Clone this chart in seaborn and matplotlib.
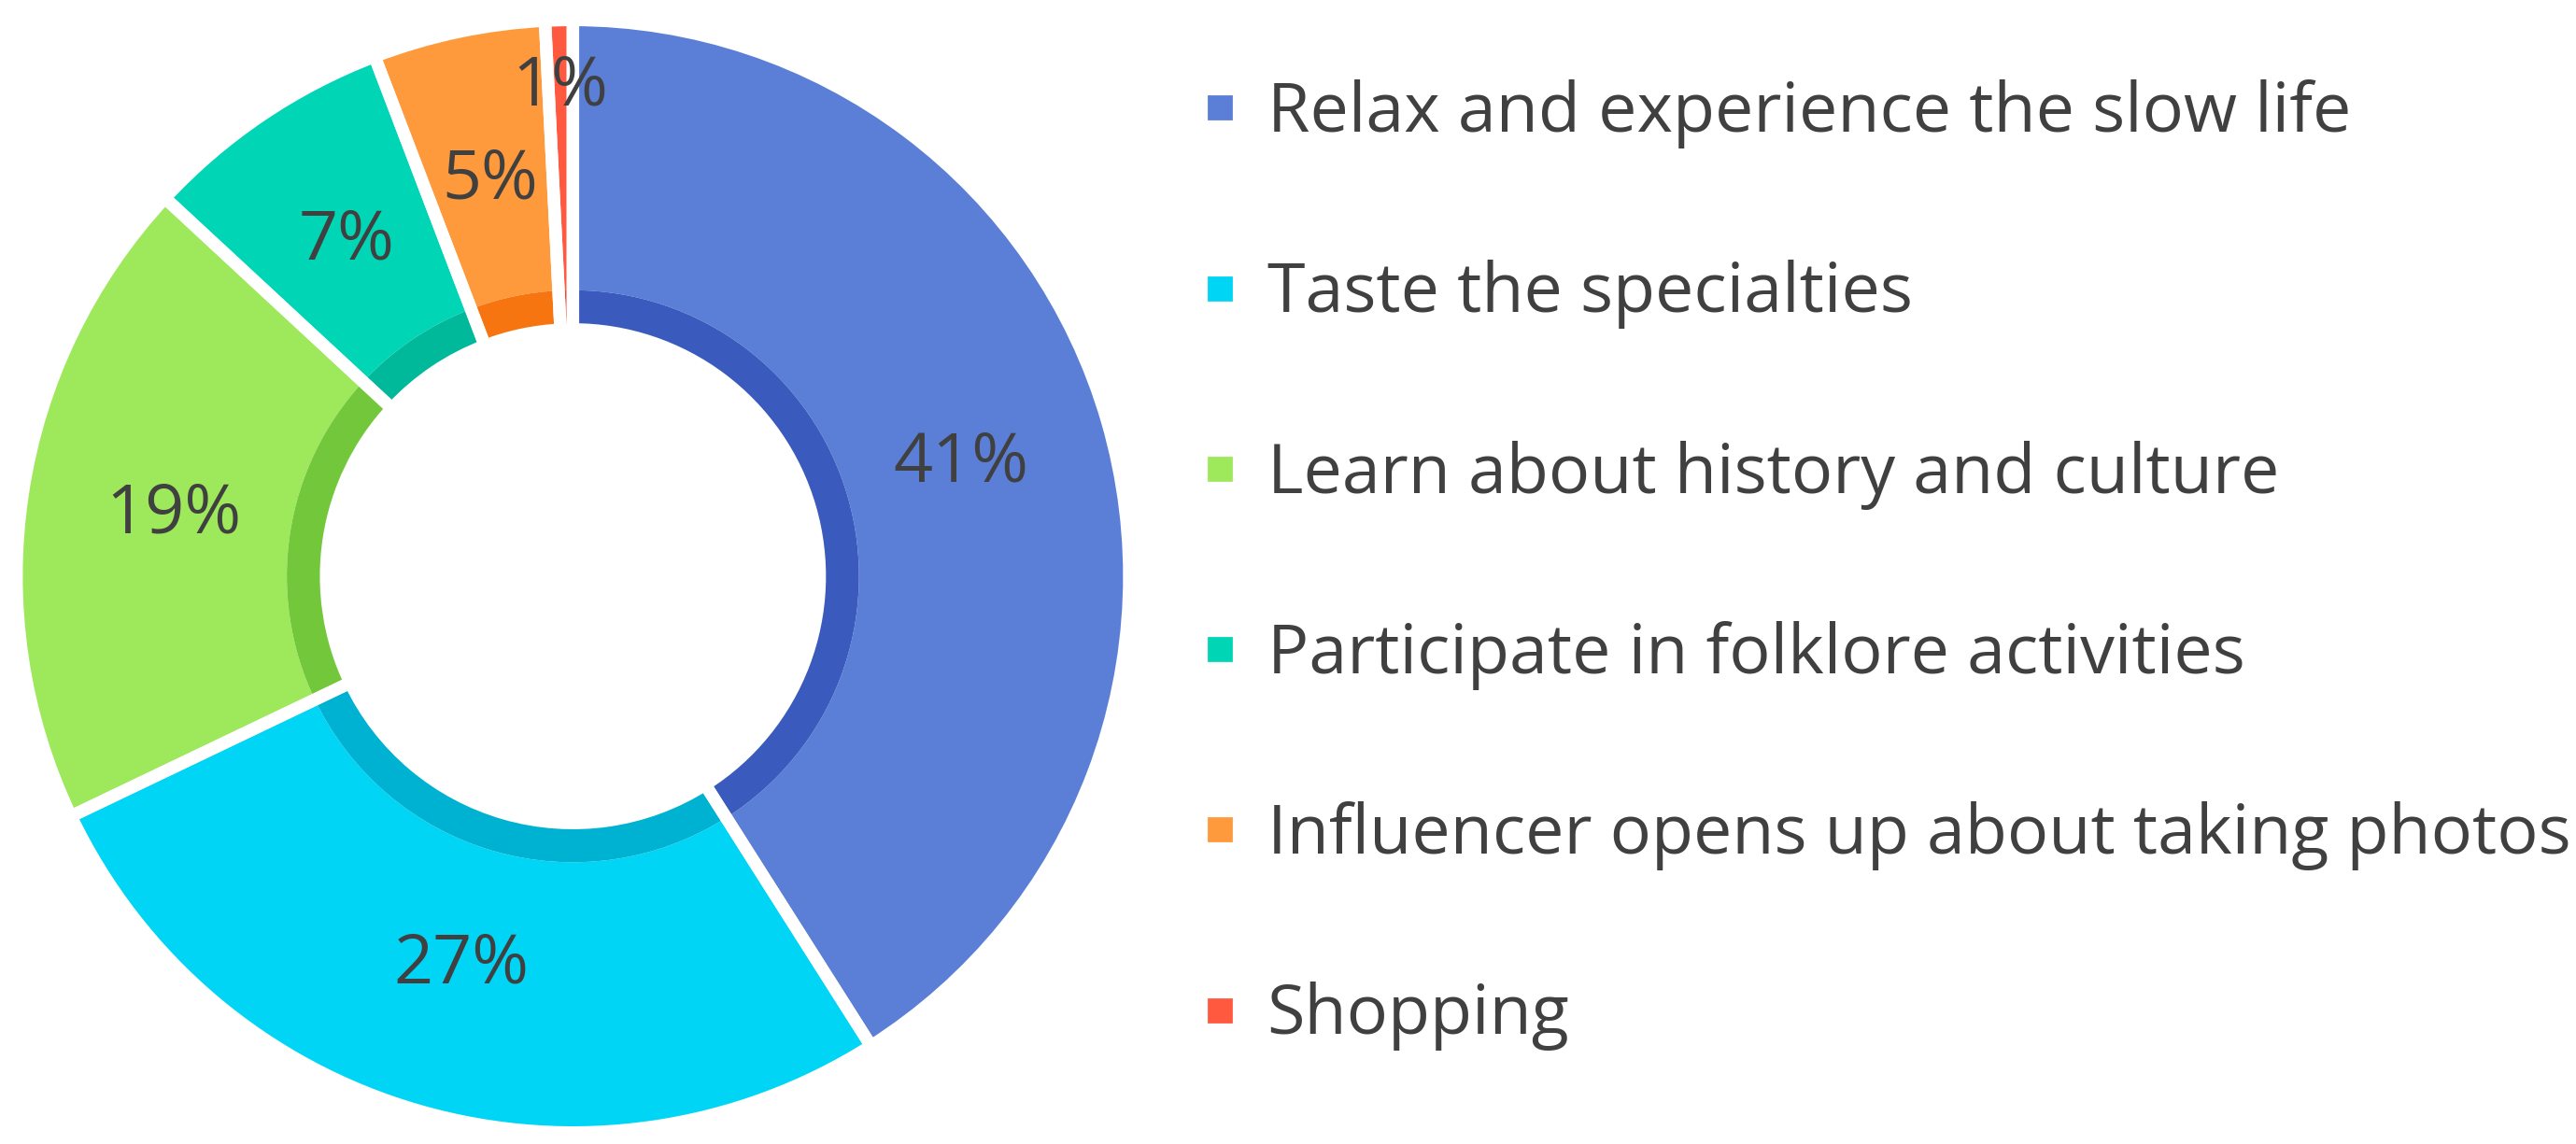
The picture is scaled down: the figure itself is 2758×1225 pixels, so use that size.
import matplotlib.pyplot as plt
import seaborn as sns
from matplotlib.lines import Line2D

# --- data ---
categories = [
    "Relax and experience the slow life",
    "Taste the specialties",
    "Learn about history and culture",
    "Participate in folklore activities",
    "Influencer opens up about taking photos",
    "Shopping",
]
shares = [41.0, 26.9, 19.0, 7.3, 5.0, 0.8]

# --- style ---
main_colors = ["#5B7FD6", "#00D5F5", "#9DE85B", "#00D6B6", "#FF9A3C", "#FF5A40"]
inner_colors = ["#3A5BBD", "#00B2D2", "#72C83A", "#00B89A", "#F77510", "#F04530"]
text_color = "#404040"
font_size = 26.5
gap_width = 4.8
dpi = 200

sns.set_theme(style="white")
plt.rcParams["font.family"] = ["Open Sans", "DejaVu Sans"]

fig = plt.figure(figsize=(2758 / dpi, 1225 / dpi), dpi=dpi)
ax = fig.add_axes([0.0088, 0.0155, 0.4272, 0.9616])

common = dict(startangle=90, counterclock=False)

# main ring (no edges, the gaps are drawn afterwards)
wedges, _, autotexts = ax.pie(
    shares,
    colors=main_colors,
    radius=1.0,
    autopct="%.0f%%",
    pctdistance=0.735,
    wedgeprops=dict(width=0.48, linewidth=0),
    textprops=dict(color=text_color, fontsize=font_size, zorder=5),
    **common,
)

# darker inner band
ax.pie(
    shares,
    colors=inner_colors,
    radius=0.52,
    wedgeprops=dict(width=0.06, linewidth=0),
    **common,
)

# white separators between slices
sep, _ = ax.pie(
    shares,
    colors=["none"] * len(shares),
    radius=1.03,
    wedgeprops=dict(width=0.59, edgecolor="white", linewidth=gap_width, fill=False),
    **common,
)

# push the tiny slice label outward
x, y = autotexts[-1].get_position()
autotexts[-1].set_position((x * 0.89 / 0.735, y * 0.89 / 0.735))

ax.set_xlim(-1, 1)
ax.set_ylim(-1, 1)
ax.set_aspect("equal")
ax.axis("off")

handles = [
    Line2D([], [], marker="s", linestyle="", color=c, markersize=8.5)
    for c in main_colors
]
fig.legend(
    handles,
    categories,
    loc="center left",
    bbox_to_anchor=(0.4657, 0.506),
    frameon=False,
    fontsize=font_size,
    labelcolor=text_color,
    handlelength=0.6,
    handletextpad=0.38,
    labelspacing=1.62,
    borderaxespad=0,
    borderpad=0,
)

fig.savefig("out.png", dpi=dpi, facecolor="white")
